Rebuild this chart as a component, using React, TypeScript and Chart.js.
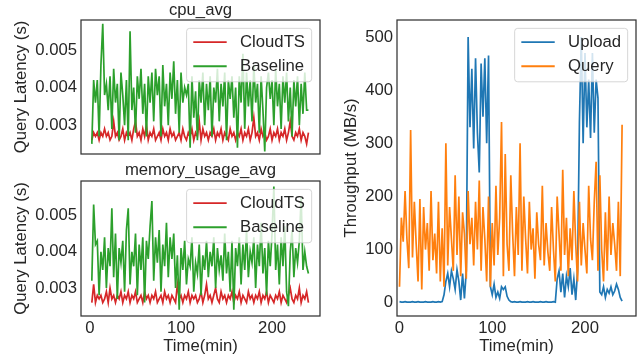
import React, { useEffect, useRef } from "react";
import { Chart, registerables } from "chart.js";

Chart.register(...registerables);

const FONT = '"Liberation Sans", Arial, Helvetica, sans-serif';
const TEXT = "#262626";
const FS = 16.7;

// ---------- data ----------
const timeLeft: number[] = Array.from({ length: 120 }, (_, i) => 2 + 2 * i);
const timeRight: number[] = Array.from({ length: 121 }, (_, i) => 2 * i);

const cpuCloudTS = [
  0.0026, 0.0028, 0.0027, 0.0028, 0.0026, 0.0028, 0.0027, 0.0029, 0.0027, 0.0028,
  0.0026, 0.0027, 0.0031, 0.0027, 0.0028, 0.0026, 0.0027, 0.0029, 0.0026, 0.0028,
  0.0027, 0.0028, 0.0026, 0.0029, 0.0031, 0.0027, 0.0028, 0.0026, 0.0029, 0.0027,
  0.003, 0.0026, 0.0028, 0.0027, 0.0029, 0.0026, 0.0027, 0.0028, 0.0026, 0.0029,
  0.0027, 0.0028, 0.0026, 0.0029, 0.0027, 0.0028, 0.0026, 0.0027, 0.0028, 0.0026,
  0.0029, 0.0027, 0.0026, 0.0028, 0.0027, 0.0029, 0.0026, 0.0028, 0.0027, 0.0031,
  0.0026, 0.0029, 0.0027, 0.0028, 0.0026, 0.0028, 0.0027, 0.0029, 0.0026, 0.0028,
  0.0027, 0.0029, 0.0026, 0.0028, 0.0027, 0.0026, 0.0029, 0.0027, 0.0028, 0.0026,
  0.0028, 0.0027, 0.0029, 0.0026, 0.0028, 0.0027, 0.0029, 0.0026, 0.0028, 0.0032,
  0.0027, 0.0028, 0.0026, 0.0029, 0.0027, 0.0028, 0.0026, 0.0027, 0.0029, 0.0026,
  0.0028, 0.0027, 0.0029, 0.0026, 0.0028, 0.0027, 0.0029, 0.0026, 0.0028, 0.0031,
  0.0027, 0.0026, 0.0028, 0.0027, 0.0029, 0.0026, 0.0028, 0.0027, 0.0025, 0.0028,
];

const cpuBaseline = [
  0.0025, 0.0042, 0.0036, 0.0042, 0.0027, 0.0046, 0.0057, 0.0038, 0.0041, 0.0034,
  0.0043, 0.0029, 0.0045, 0.0036, 0.0041, 0.0026, 0.0044, 0.0038, 0.003, 0.0042,
  0.0026, 0.0055, 0.0034, 0.004, 0.0028, 0.0043, 0.0037, 0.0045, 0.0033, 0.0041,
  0.0027, 0.0043, 0.0036, 0.0044, 0.0031, 0.0045, 0.0038, 0.0043, 0.0027, 0.0046,
  0.0035, 0.0041, 0.003, 0.0044, 0.0037, 0.0047, 0.0033, 0.0042, 0.0028, 0.0044,
  0.0036, 0.004, 0.0038, 0.0041, 0.0024, 0.0043, 0.0032, 0.0039, 0.0026, 0.0042,
  0.0036, 0.0044, 0.003, 0.0041, 0.0034, 0.0043, 0.0027, 0.004, 0.0036, 0.0045,
  0.0031, 0.0041, 0.0035, 0.0044, 0.0026, 0.0042, 0.0037, 0.0043, 0.0032, 0.004,
  0.0024, 0.0043, 0.0036, 0.0049, 0.0029, 0.0044, 0.0035, 0.0042, 0.0031, 0.0046,
  0.0036, 0.0041, 0.0028, 0.0043, 0.0034, 0.0023, 0.004, 0.0044, 0.0037, 0.0042,
  0.003, 0.0045, 0.0035, 0.0041, 0.0029, 0.0043, 0.0036, 0.0044, 0.0031, 0.004,
  0.0027, 0.0042, 0.0035, 0.0043, 0.003, 0.0041, 0.0033, 0.0044, 0.0034, 0.0034,
];

const memCloudTS = [
  0.0026, 0.0031, 0.0026, 0.0028, 0.0027, 0.0028, 0.0026, 0.0027, 0.0029, 0.0026,
  0.003, 0.0027, 0.0028, 0.0026, 0.0028, 0.0027, 0.0029, 0.0026, 0.0028, 0.0027,
  0.0029, 0.0026, 0.0028, 0.0027, 0.0029, 0.0026, 0.0027, 0.0028, 0.0026, 0.0029,
  0.0027, 0.0028, 0.0026, 0.0028, 0.0027, 0.0029, 0.0026, 0.0027, 0.0028, 0.0026,
  0.0029, 0.0027, 0.0028, 0.0026, 0.0028, 0.0027, 0.0026, 0.0031, 0.0027, 0.0028,
  0.0026, 0.0028, 0.0027, 0.0029, 0.0026, 0.0028, 0.0027, 0.0028, 0.0026, 0.0027,
  0.0029, 0.0026, 0.0028, 0.0031, 0.0027, 0.0028, 0.0026, 0.0028, 0.003, 0.0027,
  0.0026, 0.0029, 0.0027, 0.0028, 0.0026, 0.0028, 0.0027, 0.0029, 0.0026, 0.0028,
  0.0027, 0.0029, 0.0026, 0.0028, 0.0027, 0.0026, 0.0029, 0.0027, 0.0028, 0.0026,
  0.0028, 0.0027, 0.0029, 0.0026, 0.0028, 0.0027, 0.0029, 0.0026, 0.0028, 0.0027,
  0.0026, 0.0028, 0.0027, 0.0029, 0.0026, 0.0028, 0.0027, 0.0026, 0.0028, 0.003,
  0.0027, 0.0026, 0.0028, 0.0027, 0.003, 0.0026, 0.0028, 0.0027, 0.0029, 0.0026,
];

const memBaseline = [
  0.0032, 0.0053, 0.0042, 0.0043, 0.0028, 0.004, 0.0035, 0.0044, 0.003, 0.0041,
  0.0036, 0.0052, 0.0033, 0.0045, 0.0027, 0.0041, 0.0037, 0.0043, 0.0029, 0.0046,
  0.0052, 0.0031, 0.004, 0.0036, 0.0045, 0.0028, 0.0042, 0.0035, 0.0044, 0.0026,
  0.0043, 0.0038, 0.0047, 0.0054, 0.0032, 0.0044, 0.0037, 0.0046, 0.0029, 0.0042,
  0.0036, 0.0048, 0.0033, 0.0044, 0.0038, 0.0045, 0.003, 0.0039, 0.0024, 0.0041,
  0.0035, 0.0043, 0.0031, 0.0038, 0.0036, 0.0044, 0.0029, 0.0037, 0.0034, 0.0042,
  0.0028, 0.0039, 0.0035, 0.0043, 0.0033, 0.004, 0.0036, 0.0044, 0.003, 0.0041,
  0.0035, 0.0039, 0.0032, 0.0045, 0.0034, 0.004, 0.0029, 0.0043, 0.0024, 0.0041,
  0.0036, 0.0044, 0.0031, 0.0042, 0.0035, 0.0046, 0.0033, 0.004, 0.0037, 0.0044,
  0.003, 0.0042, 0.0036, 0.0048, 0.0034, 0.0041, 0.0028, 0.0043, 0.0036, 0.0045,
  0.0058, 0.0035, 0.0042, 0.0031, 0.0044, 0.0036, 0.0047, 0.0029, 0.0025, 0.004,
  0.0046, 0.0033, 0.0041, 0.0037, 0.0043, 0.0055, 0.0035, 0.004, 0.0036, 0.0034,
];

const upload = [
  2, 1, 1, 2, 1, 1, 1, 2, 1, 1, 2, 1, 1, 1, 2, 1, 1, 1, 2, 1, 1, 2, 1, 2,
  15, 40, 55, 30, 60, 45, 25, 62, 40, 5, 55, 8, 60,
  500, 330, 440, 290, 460, 320, 245, 450, 350, 460, 300, 465,
  30, 15, 35, 10, 20, 8, 30, 25, 30, 12, 5, 2,
  1, 2, 1, 1, 2, 1, 1, 1, 2, 1, 1, 2, 1, 1, 1, 2, 1, 1, 2, 1, 1, 1, 2, 1,
  45, 60, 20, 55, 10, 50, 30, 65, 15, 45, 5, 60,
  340, 500, 300, 470, 330, 420, 310, 470, 320, 420, 385,
  20, 15, 30, 10, 25, 18, 30, 15, 22, 35, 25, 10, 3,
];

const query = [
  30, 160, 115, 210, 120, 65, 325, 85, 190, 110,
  40, 195, 25, 180, 100, 150, 60, 210, 80, 130,
  55, 190, 40, 140, 30, 300, 70, 180, 120, 60,
  240, 90, 200, 50, 170, 130, 45, 210, 110, 160,
  70, 190, 100, 230, 60, 180, 120, 40, 200, 30,
  150, 70, 220, 90, 160, 340, 50, 280, 110, 60,
  240, 130, 50, 180, 90, 300, 60, 200, 120, 55,
  190, 100, 140, 45, 170, 110, 80, 220, 70, 150,
  95, 60, 180, 100, 40, 200, 130, 60, 250, 90,
  160, 50, 140, 80, 210, 110, 40, 190, 70, 150,
  100, 55, 220, 120, 80, 190, 265, 60, 240, 100,
  40, 170, 60, 200, 90, 150, 110, 60, 190, 50,
  335,
];

const latencyTicks = [0.003, 0.004, 0.005];
const timeTicks = [0, 100, 200];
const throughputTicks = [0, 100, 200, 300, 400, 500];

const COLORS = { cloud: "#d62728", base: "#2ca02c", upload: "#1f77b4", query: "#ff7f0e" };

// ---------- plugin: frame, legend, title ----------
const decorPlugin = {
  id: "decor",
  afterDatasetsDraw(chart: any, _args: any, opts: any) {
    const { ctx, chartArea: a } = chart;
    ctx.save();
    const items = opts.items as { label: string; color: string }[];
    if (items && items.length) {
      ctx.font = `${FS}px ${FONT}`;
      const tw = Math.max(...items.map((it) => ctx.measureText(it.label).width));
      const bw = 0.8 * FS + 2 * FS + 0.8 * FS + tw;
      const bh = 3.2 * FS;
      const bx = a.right - 0.5 * FS - bw;
      const by = a.top + 0.5 * FS;
      ctx.beginPath();
      ctx.roundRect(bx, by, bw, bh, 3);
      ctx.fillStyle = "rgba(255,255,255,0.8)";
      ctx.fill();
      ctx.strokeStyle = "rgba(204,204,204,0.8)";
      ctx.lineWidth = 1;
      ctx.stroke();
      items.forEach((it, i) => {
        const cy = by + 0.83 * FS + i * 1.44 * FS;
        ctx.beginPath();
        ctx.moveTo(bx + 0.4 * FS, cy);
        ctx.lineTo(bx + 2.4 * FS, cy);
        ctx.strokeStyle = it.color;
        ctx.lineWidth = 1.8;
        ctx.stroke();
        ctx.fillStyle = TEXT;
        ctx.textBaseline = "middle";
        ctx.textAlign = "left";
        ctx.fillText(it.label, bx + 3.2 * FS, cy);
      });
    }
    ctx.strokeStyle = "#333333";
    ctx.lineWidth = 1.25;
    ctx.strokeRect(a.left, a.top, a.right - a.left, a.bottom - a.top);
    if (opts.title) {
      ctx.font = `${FS}px ${FONT}`;
      ctx.fillStyle = TEXT;
      ctx.textAlign = "center";
      ctx.textBaseline = "alphabetic";
      ctx.fillText(opts.title, (a.left + a.right) / 2, a.top - opts.titleGap);
    }
    ctx.restore();
  },
};

function axisFont() {
  return { family: FONT, size: FS };
}

function buildConfig(p: {
  series: { label: string; color: string; xs: number[]; ys: number[]; order: number }[];
  xMin: number; xMax: number; yMin: number; yMax: number;
  yTicks: number[]; yFmt: (v: number) => string; yTitle: string;
  showX: boolean; canvasW: number; canvasH: number;
  left: number; top: number; right: number; bottom: number;
  title?: string; titleGap?: number;
}): any {
  return {
    type: "line",
    data: {
      datasets: p.series.map((s) => ({
        label: s.label,
        data: s.xs.map((x, i) => ({ x, y: s.ys[i] })),
        borderColor: s.color,
        backgroundColor: s.color,
        borderWidth: 1.7,
        pointRadius: 0,
        tension: 0,
        fill: false,
        order: s.order,
      })),
    },
    options: {
      animation: false,
      responsive: false,
      maintainAspectRatio: false,
      layout: { padding: { left: 0, top: p.top, right: p.canvasW - p.right, bottom: 0 } },
      plugins: {
        legend: { display: false },
        tooltip: { enabled: false },
        decor: {
          items: p.series.map((s) => ({ label: s.label, color: s.color })),
          title: p.title,
          titleGap: p.titleGap ?? 5,
        },
      },
      scales: {
        x: {
          type: "linear",
          min: p.xMin,
          max: p.xMax,
          grid: { display: false, drawTicks: false },
          border: { display: false },
          afterBuildTicks: (s: any) => { s.ticks = timeTicks.map((v) => ({ value: v })); },
          afterFit: (s: any) => {
            s.height = p.canvasH - p.bottom;
            s.paddingLeft = 0;
            s.paddingRight = 0;
          },
          ticks: { display: p.showX, font: axisFont(), color: TEXT, padding: 2, maxRotation: 0, autoSkip: false },
          title: {
            display: p.showX,
            text: "Time(min)",
            font: axisFont(),
            color: TEXT,
            padding: { top: 0, bottom: 6 },
          },
        },
        y: {
          type: "linear",
          min: p.yMin,
          max: p.yMax,
          grid: { display: false, drawTicks: false },
          border: { display: false },
          afterBuildTicks: (s: any) => { s.ticks = p.yTicks.map((v) => ({ value: v })); },
          afterFit: (s: any) => {
            s.width = p.left;
            s.paddingTop = 0;
            s.paddingBottom = 0;
          },
          ticks: { font: axisFont(), color: TEXT, padding: 4, callback: (v: any) => p.yFmt(Number(v)) },
          title: {
            display: true,
            text: p.yTitle,
            font: axisFont(),
            color: TEXT,
            padding: { top: 11, bottom: 0 },
          },
        },
      },
    },
    plugins: [decorPlugin],
  };
}

function ChartPanel({ x, y, w, h, config }: { x: number; y: number; w: number; h: number; config: any }) {
  const ref = useRef<HTMLCanvasElement>(null);
  useEffect(() => {
    const chart = new Chart(ref.current as HTMLCanvasElement, config);
    return () => chart.destroy();
  }, []);
  return (
    <canvas
      ref={ref}
      width={w}
      height={h}
      style={{ position: "absolute", left: x, top: y, width: w, height: h, display: "block" }}
    />
  );
}

const fmtLatency = (v: number) => v.toFixed(3);
const fmtInt = (v: number) => String(Math.round(v));

export default function App() {
  const cpuCfg = buildConfig({
    series: [
      { label: "CloudTS", color: COLORS.cloud, xs: timeLeft, ys: cpuCloudTS, order: 1 },
      { label: "Baseline", color: COLORS.base, xs: timeLeft, ys: cpuBaseline, order: 0 },
    ],
    xMin: -9.9, xMax: 252.7, yMin: 0.00223, yMax: 0.0058,
    yTicks: latencyTicks, yFmt: fmtLatency, yTitle: "Query Latency (s)",
    showX: false, canvasW: 330, canvasH: 158,
    left: 81, top: 20, right: 320, bottom: 154,
    title: "cpu_avg", titleGap: 5,
  });
  const memCfg = buildConfig({
    series: [
      { label: "CloudTS", color: COLORS.cloud, xs: timeLeft, ys: memCloudTS, order: 1 },
      { label: "Baseline", color: COLORS.base, xs: timeLeft, ys: memBaseline, order: 0 },
    ],
    xMin: -9.9, xMax: 252.7, yMin: 0.00223, yMax: 0.00595,
    yTicks: latencyTicks, yFmt: fmtLatency, yTitle: "Query Latency (s)",
    showX: true, canvasW: 330, canvasH: 204,
    left: 81, top: 23, right: 320, bottom: 158,
    title: "memory_usage_avg", titleGap: 6,
  });
  const thrCfg = buildConfig({
    series: [
      { label: "Upload", color: COLORS.upload, xs: timeRight, ys: upload, order: 1 },
      { label: "Query", color: COLORS.query, xs: timeRight, ys: query, order: 0 },
    ],
    xMin: -2.7, xMax: 255, yMin: -25, yMax: 532,
    yTicks: throughputTicks, yFmt: fmtInt, yTitle: "Throughput (MB/s)",
    showX: true, canvasW: 311, canvasH: 362,
    left: 67, top: 20, right: 306, bottom: 316,
  });
  return (
    <div style={{ position: "absolute", left: 0, top: 0, width: 641, height: 362, background: "#fff" }}>
      <ChartPanel x={0} y={0} w={330} h={158} config={cpuCfg} />
      <ChartPanel x={0} y={158} w={330} h={204} config={memCfg} />
      <ChartPanel x={330} y={0} w={311} h={362} config={thrCfg} />
    </div>
  );
}
